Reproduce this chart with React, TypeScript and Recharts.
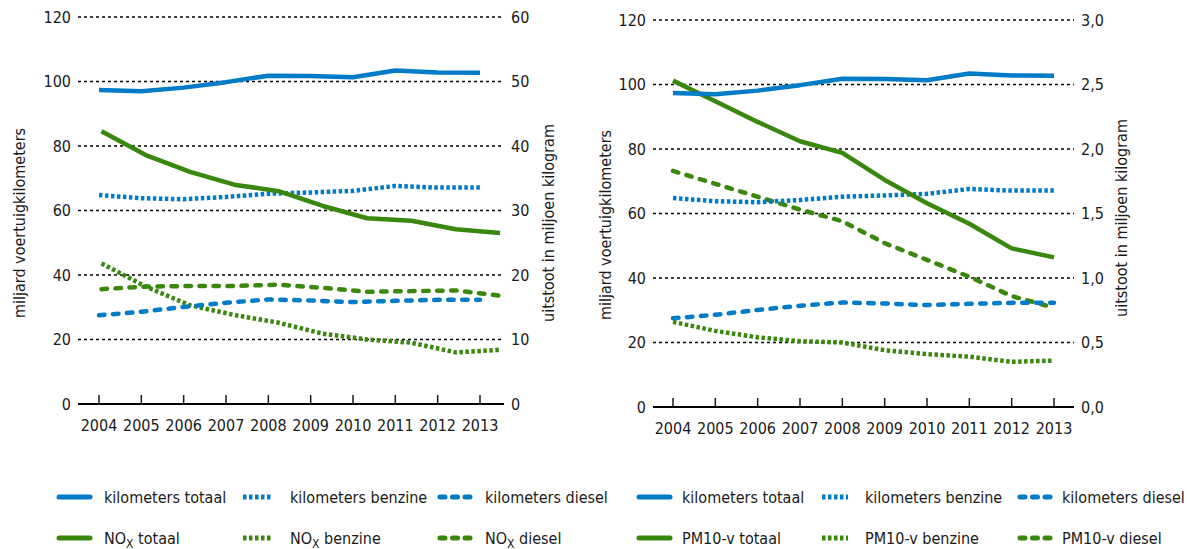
import React from 'react';
import { LineChart, Line, XAxis, YAxis, CartesianGrid } from 'recharts';

const FONT = '"DejaVu Sans Condensed", "DejaVu Sans", sans-serif';
const TXT = '#1a1a1a';
const BLUE = '#007bc7';
const GREEN = '#39870c';

const years = [2004, 2005, 2006, 2007, 2008, 2009, 2010, 2011, 2012, 2013];
const kmTotaal = [97.4, 97.0, 98.1, 99.8, 101.8, 101.7, 101.3, 103.4, 102.8, 102.7];
const kmBenzine = [64.8, 63.8, 63.5, 64.2, 65.2, 65.6, 66.1, 67.6, 67.1, 67.1];
const kmDiesel = [27.5, 28.6, 30.1, 31.4, 32.4, 32.1, 31.6, 32.0, 32.3, 32.3];
const noxTotaal = [42.3, 38.6, 36.0, 34.0, 33.0, 30.7, 28.8, 28.4, 27.1, 26.5];
const noxBenzine = [21.8, 18.2, 15.3, 13.8, 12.6, 10.9, 10.0, 9.5, 8.0, 8.4];
const noxDiesel = [17.8, 18.2, 18.3, 18.3, 18.5, 18.0, 17.4, 17.5, 17.6, 16.8];
const pmTotaal = [2.53, 2.37, 2.21, 2.06, 1.97, 1.76, 1.58, 1.42, 1.23, 1.16];
const pmBenzine = [0.66, 0.59, 0.54, 0.51, 0.5, 0.44, 0.41, 0.39, 0.35, 0.36];
const pmDiesel = [1.83, 1.73, 1.63, 1.53, 1.44, 1.27, 1.14, 1.01, 0.86, 0.77];

const kmTicks = [0, 20, 40, 60, 80, 100, 120];
const noxTicks = [0, 10, 20, 30, 40, 50, 60];
const pmTicks = [0, 0.5, 1.0, 1.5, 2.0, 2.5, 3.0];

const leftAxisTitle = 'miljard voertuigkilometers';
const rightAxisTitle = 'uitstoot in miljoen kilogram';
const kmLabels = ['kilometers totaal', 'kilometers benzine', 'kilometers diesel'];
const noxLabels = ['totaal', 'benzine', 'diesel'];
const pmLabels = ['PM10-v totaal', 'PM10-v benzine', 'PM10-v diesel'];

const noxData = years.map((year, i) => ({
  year,
  kmTotaal: kmTotaal[i],
  kmBenzine: kmBenzine[i],
  kmDiesel: kmDiesel[i],
  noxTotaal: noxTotaal[i],
  noxBenzine: noxBenzine[i],
  noxDiesel: noxDiesel[i],
}));
const pmData = years.map((year, i) => ({
  year,
  kmTotaal: kmTotaal[i],
  kmBenzine: kmBenzine[i],
  kmDiesel: kmDiesel[i],
  pmTotaal: pmTotaal[i],
  pmBenzine: pmBenzine[i],
  pmDiesel: pmDiesel[i],
}));

const W_LINE = 4.5;
const DOT = '3.5 2.5';
const DASH = '5.5 8.5';

const YearTick = (props: any) => {
  const { x, y, payload } = props;
  return (
    <g>
      <line x1={x} x2={x} y1={y - 9} y2={y} stroke={TXT} strokeWidth={1.5} />
      <text x={x} y={y + 27} textAnchor="middle" fill={TXT} fontSize={16} fontFamily={FONT}>
        {payload.value}
      </text>
    </g>
  );
};

const tickStyle = { fill: TXT, fontSize: 16, fontFamily: FONT };
const comma = (v: number) => v.toFixed(1).replace('.', ',');

const lineProps = (stroke: string, dash?: string) => ({
  stroke,
  strokeWidth: W_LINE,
  strokeDasharray: dash,
  strokeLinecap: (dash === DASH ? 'round' : 'butt') as any,
  strokeLinejoin: 'round' as any,
  dot: false,
  activeDot: false,
  isAnimationActive: false,
  type: 'linear' as const,
});

const LegendSymbol = ({ x1, x2, y, color, kind }: any) => {
  if (kind === 'solid')
    return <line x1={x1} x2={x2} y1={y} y2={y} stroke={color} strokeWidth={5} strokeLinecap="round" />;
  if (kind === 'dot')
    return <line x1={x1} x2={x2} y1={y} y2={y} stroke={color} strokeWidth={5} strokeDasharray="3.5 2.5" />;
  return <line x1={x1} x2={x2} y1={y} y2={y} stroke={color} strokeWidth={5} strokeDasharray="5 7.5" strokeLinecap="round" />;
};

const kinds = ['solid', 'dot', 'dash'];
const leftCols = [
  { s1: 59, s2: 90, tx: 104 },
  { s1: 243, s2: 271, tx: 290 },
  { s1: 440, s2: 470, tx: 485 },
];
const rightCols = [
  { s1: 639, s2: 670, tx: 682 },
  { s1: 822, s2: 848, tx: 865 },
  { s1: 1020, s2: 1050, tx: 1062 },
];
const ROW1 = 497;
const ROW2 = 538;

export default function App() {
  return (
    <div style={{ position: 'absolute', left: 0, top: 0, width: 1187, height: 549, background: '#fff', fontFamily: FONT }}>
      <div style={{ position: 'absolute', left: 0, top: 0 }}>
        <LineChart width={590} height={440} data={noxData} margin={{ top: 17, right: 0, bottom: 0, left: 0 }}>
          <CartesianGrid vertical={false} stroke="#000" strokeWidth={1.5} strokeDasharray="3 3" xAxisId="x" yAxisId="km" />
          <XAxis
            xAxisId="x"
            dataKey="year"
            type="number"
            domain={[2004, 2013]}
            ticks={years}
            padding={{ left: 21, right: 24 }}
            height={36}
            tickSize={0}
            tickMargin={0}
            tickLine={false}
            axisLine={{ stroke: '#000', strokeWidth: 2 }}
            tick={<YearTick />}
            interval={0}
          />
          <XAxis
            xAxisId="g"
            dataKey="year"
            type="number"
            domain={[2004, 2013]}
            padding={{ left: 23.5, right: 4 }}
            orientation="top"
            height={0}
            hide
          />
          <YAxis
            yAxisId="km"
            orientation="left"
            width={78}
            domain={[0, 120]}
            ticks={kmTicks}
            axisLine={false}
            tickLine={false}
            tickSize={0}
            tickMargin={7}
            tick={tickStyle}
          />
          <YAxis
            yAxisId="em"
            orientation="right"
            width={86}
            domain={[0, 60]}
            ticks={noxTicks}
            axisLine={false}
            tickLine={false}
            tickSize={0}
            tickMargin={7}
            tick={tickStyle}
          />
          <Line xAxisId="g" yAxisId="em" dataKey="noxBenzine" {...lineProps(GREEN, DOT)} />
          <Line xAxisId="g" yAxisId="em" dataKey="noxDiesel" {...lineProps(GREEN, DASH)} />
          <Line xAxisId="x" yAxisId="km" dataKey="kmDiesel" {...lineProps(BLUE, DASH)} />
          <Line xAxisId="x" yAxisId="km" dataKey="kmBenzine" {...lineProps(BLUE, DOT)} />
          <Line xAxisId="g" yAxisId="em" dataKey="noxTotaal" {...lineProps(GREEN)} />
          <Line xAxisId="x" yAxisId="km" dataKey="kmTotaal" {...lineProps(BLUE)} />
        </LineChart>
      </div>
      <div style={{ position: 'absolute', left: 590, top: 0 }}>
        <LineChart width={597} height={443} data={pmData} margin={{ top: 20, right: 0, bottom: 0, left: 0 }}>
          <CartesianGrid vertical={false} stroke="#000" strokeWidth={1.5} strokeDasharray="3 3" xAxisId="x" yAxisId="km" />
          <XAxis
            xAxisId="x"
            dataKey="year"
            type="number"
            domain={[2004, 2013]}
            ticks={years}
            padding={{ left: 20, right: 20 }}
            height={36}
            tickSize={0}
            tickMargin={0}
            tickLine={false}
            axisLine={{ stroke: '#000', strokeWidth: 2 }}
            tick={<YearTick />}
            interval={0}
          />
          <YAxis
            yAxisId="km"
            orientation="left"
            width={63}
            domain={[0, 120]}
            ticks={kmTicks}
            axisLine={false}
            tickLine={false}
            tickSize={0}
            tickMargin={7}
            tick={tickStyle}
          />
          <YAxis
            yAxisId="em"
            orientation="right"
            width={113}
            domain={[0, 3]}
            ticks={pmTicks}
            tickFormatter={comma}
            axisLine={false}
            tickLine={false}
            tickSize={0}
            tickMargin={7}
            tick={tickStyle}
          />
          <Line xAxisId="x" yAxisId="em" dataKey="pmBenzine" {...lineProps(GREEN, DOT)} />
          <Line xAxisId="x" yAxisId="em" dataKey="pmDiesel" {...lineProps(GREEN, DASH)} />
          <Line xAxisId="x" yAxisId="km" dataKey="kmDiesel" {...lineProps(BLUE, DASH)} />
          <Line xAxisId="x" yAxisId="km" dataKey="kmBenzine" {...lineProps(BLUE, DOT)} />
          <Line xAxisId="x" yAxisId="em" dataKey="pmTotaal" {...lineProps(GREEN)} />
          <Line xAxisId="x" yAxisId="km" dataKey="kmTotaal" {...lineProps(BLUE)} />
        </LineChart>
      </div>
      <svg width={1187} height={549} style={{ position: 'absolute', left: 0, top: 0, pointerEvents: 'none' }}>
        <g fill={TXT} fontSize={16} fontFamily={FONT}>
          <text transform="translate(19,223) rotate(-90)" textAnchor="middle" dominantBaseline="central">{leftAxisTitle}</text>
          <text transform="translate(548,223) rotate(-90)" textAnchor="middle" dominantBaseline="central">{rightAxisTitle}</text>
          <text transform="translate(605,225) rotate(-90)" textAnchor="middle" dominantBaseline="central">{leftAxisTitle}</text>
          <text transform="translate(1121,218) rotate(-90)" textAnchor="middle" dominantBaseline="central">{rightAxisTitle}</text>
          {kmLabels.map((lab, i) => (
            <g key={'kl' + i}>
              <LegendSymbol x1={leftCols[i].s1} x2={leftCols[i].s2} y={ROW1} color={BLUE} kind={kinds[i]} />
              <text x={leftCols[i].tx} y={ROW1 + 5.5}>{lab}</text>
              <LegendSymbol x1={rightCols[i].s1} x2={rightCols[i].s2} y={ROW1} color={BLUE} kind={kinds[i]} />
              <text x={rightCols[i].tx} y={ROW1 + 5.5}>{lab}</text>
            </g>
          ))}
          {noxLabels.map((lab, i) => (
            <g key={'nl' + i}>
              <LegendSymbol x1={leftCols[i].s1} x2={leftCols[i].s2} y={ROW2} color={GREEN} kind={kinds[i]} />
              <text x={leftCols[i].tx} y={ROW2 + 5.5}>
                NO
                <tspan fontSize={12} dy={4}>X</tspan>
                <tspan dy={-4}>{' ' + lab}</tspan>
              </text>
            </g>
          ))}
          {pmLabels.map((lab, i) => (
            <g key={'pl' + i}>
              <LegendSymbol x1={rightCols[i].s1} x2={rightCols[i].s2} y={ROW2} color={GREEN} kind={kinds[i]} />
              <text x={rightCols[i].tx} y={ROW2 + 5.5}>{lab}</text>
            </g>
          ))}
        </g>
      </svg>
    </div>
  );
}
